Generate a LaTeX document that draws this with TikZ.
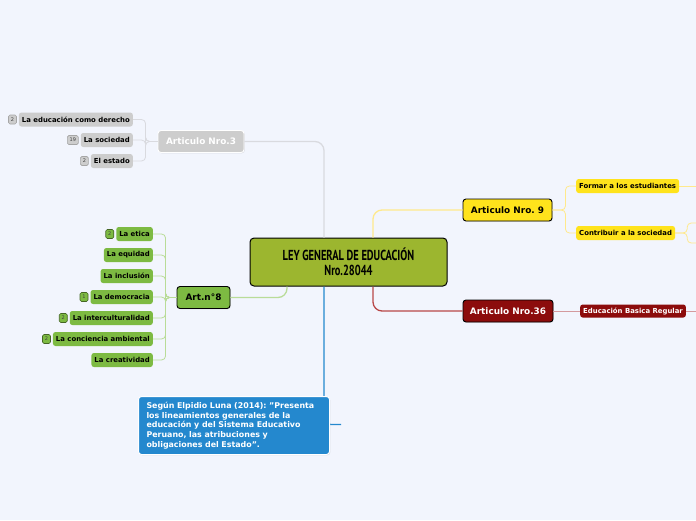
\documentclass[tikz,border=0pt]{standalone}
\usepackage{fontspec}
\setmainfont{DejaVu Sans}
\newfontfamily\titlefont[FakeStretch=0.72]{PT Sans}
\usetikzlibrary{positioning,shadows}
\frenchspacing

\begin{document}
\begin{tikzpicture}[x=1pt, y=-1pt]

  % ---- colours ----
  \definecolor{MMbg}{HTML}{F2F5FD}
  \definecolor{MMolive}{HTML}{9CB62F}
  \definecolor{MMgray}{HTML}{CDCDCD}
  \definecolor{MMgrayline}{HTML}{D9DADF}
  \definecolor{MMgreen}{HTML}{7DBA42}
  \definecolor{MMgreenline}{HTML}{B9DC98}
  \definecolor{MMyellow}{HTML}{FFE31C}
  \definecolor{MMyellowline}{HTML}{FFE98C}
  \definecolor{MMred}{HTML}{8C0C0C}
  \definecolor{MMredline}{HTML}{B84848}
  \definecolor{MMpink}{HTML}{D49A9E}
  \definecolor{MMblue}{HTML}{2488CE}

  % ---- canvas ----
  \fill[MMbg] (0,0) rectangle (696,520);
  \useasboundingbox (0,0) rectangle (696,520);

  % ---- styles ----
  \tikzset{
    topic/.style={rounded corners=3pt, draw=black, line width=0.9pt,
      font=\fontsize{8.9}{10}\selectfont\bfseries, inner sep=0pt,
      minimum height=22pt, drop shadow={opacity=0.2, shadow xshift=0.8pt, shadow yshift=-0.8pt}},
    leaf/.style={rounded corners=2.5pt, font=\fontsize{6.9}{8}\selectfont\bfseries,
      inner xsep=3pt, inner ysep=0pt, minimum height=14pt},
    badgegray/.style={rounded corners=1.5pt, draw=gray!70, fill=MMgray, line width=0.6pt,
      font=\fontsize{5}{5}\selectfont, text=black!75, minimum width=8pt,
      minimum height=9pt, inner sep=0.5pt},
    badgegreen/.style={badgegray, draw=MMgreen!55!black, fill=MMgreen},
    link/.style={line width=1.3pt, rounded corners=9pt},
    twig/.style={line width=0.8pt, rounded corners=4pt},
  }

  % ---- central topic ----
  \node[draw=black, fill=MMolive, line width=1pt, rounded corners=4pt,
    minimum width=197pt, minimum height=48pt, align=center,
    font=\titlefont\fontsize{14.5}{15.5}\selectfont\bfseries] (ley) at (348.5,262)
    {LEY GENERAL DE EDUCACIÓN\\Nro.28044};

  % ---- main branches ----
  \node[topic, draw=white, fill=MMgray, text=white, minimum width=86pt] (art3) at (201,141.5) {Articulo Nro.3};
  \node[topic, fill=MMgreen, minimum width=53pt] (art8) at (203.5,297.5) {Art.n°8};
  \node[topic, fill=MMyellow, minimum width=89pt] (art9) at (507.5,210) {Articulo Nro. 9};
  \node[topic, fill=MMred, text=white, minimum width=90pt] (art36) at (508,311) {Articulo Nro.36};

  % LEFT TOP: Articulo Nro.3
  \node[leaf, fill=MMgray, anchor=east] (derecho) at (133,119.5) {La educación como derecho};
  \node[leaf, fill=MMgray, anchor=east] (sociedad) at (133,140) {La sociedad};
  \node[leaf, fill=MMgray, anchor=east] (estado) at (133,161) {El estado};
  \node[badgegray, left=2pt of derecho] (bderecho) {2};
  \node[badgegray, left=2pt of sociedad, minimum width=11pt] (bsociedad) {19};
  \node[badgegray, left=2pt of estado] (bestado) {2};

  % LEFT MIDDLE: Art.n°8
  \node[leaf, fill=MMgreen, anchor=east] (etica) at (153,234) {La etica};
  \node[leaf, fill=MMgreen, anchor=east] (equidad) at (153,255) {La equidad};
  \node[leaf, fill=MMgreen, anchor=east] (inclusion) at (153,276) {La inclusión};
  \node[leaf, fill=MMgreen, anchor=east] (democracia) at (153,297) {La democracia};
  \node[leaf, fill=MMgreen, anchor=east] (intercult) at (153,318) {La interculturalidad};
  \node[leaf, fill=MMgreen, anchor=east] (conciencia) at (153,339) {La conciencia ambiental};
  \node[leaf, fill=MMgreen, anchor=east] (creatividad) at (153,360) {La creatividad};
  \node[badgegreen, left=2pt of etica] (betica) {2};
  \node[badgegreen, left=2pt of democracia] (bdemocracia) {1};
  \node[badgegreen, left=2pt of intercult] (bintercult) {2};
  \node[badgegreen, left=2pt of conciencia] (bconciencia) {2};

  % RIGHT TOP: Articulo Nro. 9
  \node[leaf, fill=MMyellow, anchor=west] (formar) at (576,186) {Formar a los estudiantes};
  \node[leaf, fill=MMyellow, anchor=west] (contribuir) at (576,233) {Contribuir a la sociedad};

  % RIGHT BOTTOM: Articulo Nro.36
  \node[leaf, fill=MMred, text=white, anchor=west, minimum height=13pt] (ebr) at (580,311) {Educación Basica Regular};

  % ---- loose ends ----
  \coordinate (formarout) at (696,186);
  \coordinate (contribup) at (696,223);
  \coordinate (contribdn) at (696,243);
  \coordinate (ebrout) at (696,311);
  \coordinate (noteend) at (341,424.5);

  % ---- connectors ----
  \draw[link, MMgrayline] (art3.east) -| ([xshift=-24.5pt]ley.north);
  \draw[link, MMgreenline] (art8.east) -| ([xshift=-61.5pt]ley.south);
  \draw[link, MMyellowline] ([xshift=24.5pt]ley.north) |- (art9.west);
  \draw[link, MMredline] ([xshift=24.5pt]ley.south) |- (art36.west);
  \draw[link, MMblue, rounded corners=7pt] ([xshift=-24.5pt]ley.south) |- (noteend);

  \foreach \leafname in {derecho,sociedad,estado}
    \draw[twig, MMgrayline] (art3.west) -- ++(-12,0) |- (\leafname.east);
  \foreach \leafname in {etica,equidad,inclusion,democracia,intercult,conciencia,creatividad}
    \draw[twig, MMgreenline] (art8.west) -- ++(-11,0) |- (\leafname.east);
  \foreach \leafname in {formar,contribuir}
    \draw[twig, MMyellowline] (art9.east) -- ++(13,0) |- (\leafname.west);
  \draw[twig, MMyellowline] (formar.east) -- (formarout);
  \draw[twig, MMyellowline] (contribuir.east) -- ++(12,0) |- (contribup);
  \draw[twig, MMyellowline] (contribuir.east) -- ++(12,0) |- (contribdn);
  \draw[twig, MMpink] (art36.east) -- (ebr.west);
  \draw[twig, MMpink] (ebr.east) -- (ebrout);

  % ---- note ----
  \node[draw=white, fill=MMblue, text=white, line width=1pt, rounded corners=3pt,
    anchor=north west, text width=175pt, inner xsep=8pt, inner ysep=4.5pt,
    minimum width=191pt, minimum height=58pt, align=left,
    font=\fontsize{7.9}{9.7}\selectfont\bfseries,
    drop shadow={opacity=0.2, shadow xshift=0.8pt, shadow yshift=-0.8pt}] (note) at (138,396)
    {Según Elpidio Luna (2014): \symbol{34}Presenta\\los lineamientos generales de la\\educación y del Sistema Educativo\\Peruano, las atribuciones y\\obligaciones del Estado\symbol{34}.};

\end{tikzpicture}
\end{document}
